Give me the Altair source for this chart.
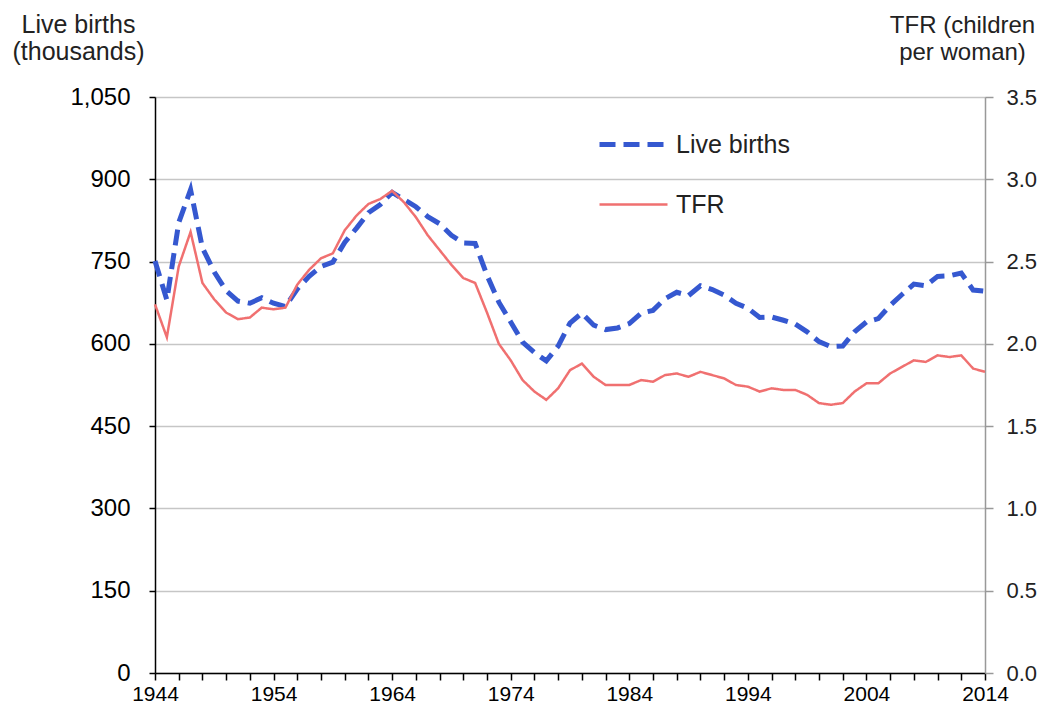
import altair as alt
import pandas as pd

years = list(range(1944, 2015))
live_births = [751, 680, 821, 881, 775, 731, 697, 678, 674, 684,
               674, 668, 700, 723, 741, 749, 785, 811, 839, 854,
               876, 863, 850, 832, 819, 798, 784, 783, 725, 676,
               640, 603, 584, 569, 596, 638, 656, 634, 626, 629,
               637, 656, 661, 682, 694, 688, 706, 699, 689, 674,
               665, 648, 649, 643, 636, 622, 604, 595, 596, 622,
               640, 646, 670, 690, 709, 706, 723, 724, 729, 698,
               696]
tfr = [2.24, 2.04, 2.47, 2.68, 2.37, 2.27, 2.19, 2.15, 2.16, 2.22,
       2.21, 2.22, 2.36, 2.45, 2.52, 2.55, 2.69, 2.78, 2.85, 2.88,
       2.93, 2.86, 2.77, 2.66, 2.57, 2.48, 2.40, 2.37, 2.19, 2.00,
       1.90, 1.78, 1.71, 1.66, 1.73, 1.84, 1.88, 1.80, 1.75, 1.75,
       1.75, 1.78, 1.77, 1.81, 1.82, 1.80, 1.83, 1.81, 1.79, 1.75,
       1.74, 1.71, 1.73, 1.72, 1.72, 1.69, 1.64, 1.63, 1.64, 1.71,
       1.76, 1.76, 1.82, 1.86, 1.90, 1.89, 1.93, 1.92, 1.93, 1.85,
       1.83]
series_names = ["Live births", "TFR"]
left_ticks = [0, 150, 300, 450, 600, 750, 900, 1050]
right_ticks = [0.0, 0.5, 1.0, 1.5, 2.0, 2.5, 3.0, 3.5]
x_ticks = list(range(1944, 2015, 2))

df = pd.DataFrame({
    "year": years * 2,
    "value": live_births + tfr,
    "series": [series_names[0]] * len(years) + [series_names[1]] * len(years),
})

FONT = "Liberation Sans"

legend = alt.Legend(
    orient="none", legendX=459, legendY=28, title=None,
    symbolType="M-2,0H2", symbolSize=1156, labelFont=FONT,
    labelFontSize=25, labelColor="#222222", labelOffset=23, rowPadding=28,
)
color = alt.Color("series:N", scale=alt.Scale(domain=series_names, range=["#3558d0", "#f07070"]), legend=legend)
dash = alt.StrokeDash("series:N", scale=alt.Scale(domain=series_names, range=[[16, 8], [1, 0]]), legend=legend)
swidth = alt.StrokeWidth("series:N", scale=alt.Scale(domain=series_names, range=[5, 2.5]), legend=legend)

x = alt.X(
    "year:Q",
    scale=alt.Scale(domain=[1944, 2014], nice=False, zero=False),
    axis=alt.Axis(
        values=x_ticks, format="d",
        labelExpr="datum.value % 10 == 4 ? datum.label : ''",
        labelFlush=False, grid=False, tickSize=7, tickColor="black",
        tickWidth=1.5, domainColor="black", domainWidth=1.5,
        labelFont=FONT, labelFontSize=21, labelColor="black",
        labelPadding=3, title=None,
    ),
)

births = alt.Chart(df).transform_filter(
    alt.datum.series == series_names[0]
).mark_line().encode(
    x=x,
    y=alt.Y(
        "value:Q",
        scale=alt.Scale(domain=[0, 1050], nice=False),
        axis=alt.Axis(
            orient="left", values=left_ticks, format=",d", grid=True,
            gridColor="#c6c6c6", gridWidth=1.5, tickSize=6,
            tickColor="black", tickWidth=1.5, domainColor="black",
            domainWidth=1.5, labelFont=FONT, labelFontSize=24,
            labelColor="black", labelPadding=19,
            title=["Live births", "(thousands)"], titleAngle=0,
            titleAlign="center", titleBaseline="alphabetic",
            titleX=-77, titleY=-65, titleFont=FONT, titleFontSize=25,
            titleFontWeight="normal", titleColor="#222222",
            titleLineHeight=27,
        ),
    ),
    color=color, strokeDash=dash, strokeWidth=swidth,
)

rate = alt.Chart(df).transform_filter(
    alt.datum.series == series_names[1]
).mark_line().encode(
    x=x,
    y=alt.Y(
        "value:Q",
        scale=alt.Scale(domain=[0, 3.5], nice=False),
        axis=alt.Axis(
            orient="right", values=right_ticks, format=".1f", grid=False,
            tickSize=8, tickColor="#999999", tickWidth=1.5,
            domainColor="#999999", domainWidth=1.5, labelFont=FONT,
            labelFontSize=22, labelColor="#222222", labelPadding=13,
            title=["TFR (children", "per woman)"], titleAngle=0,
            titleAlign="center", titleBaseline="alphabetic",
            titleX=-23, titleY=-65, titleFont=FONT, titleFontSize=24,
            titleFontWeight="normal", titleColor="#222222",
            titleLineHeight=27,
        ),
    ),
    color=color, strokeDash=dash, strokeWidth=swidth,
)

chart = alt.layer(births, rate).resolve_scale(y="independent").properties(
    width=830, height=576,
    autosize=alt.AutoSizeParams(type="none"),
    padding={"left": 147, "top": 89, "right": 52, "bottom": 36},
).configure_view(stroke=None).configure(background="white")

chart.save("out.html", embed_options={"renderer": "svg", "actions": False})
